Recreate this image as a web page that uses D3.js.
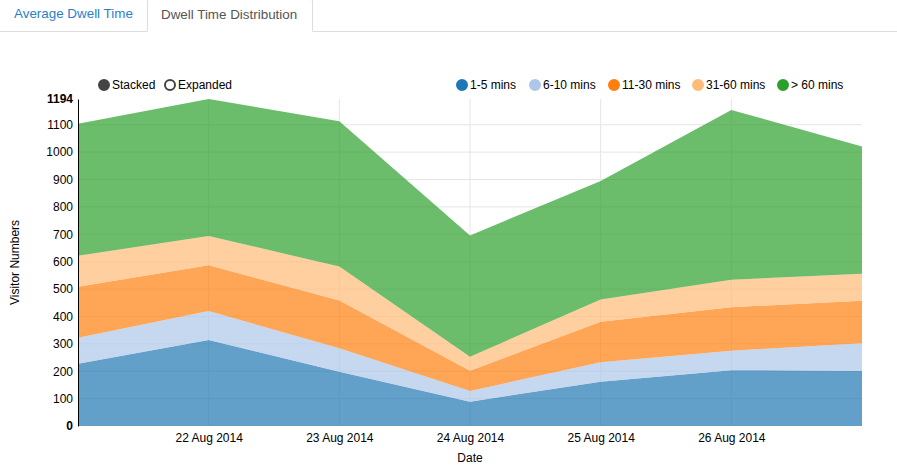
<!DOCTYPE html>
<html>
<head>
<meta charset="utf-8">
<script src="https://cdn.jsdelivr.net/npm/d3@7"></script>
<style>
  html, body { margin: 0; padding: 0; background: #fff; width: 897px; height: 465px; overflow: hidden; }
  body { font-family: "Liberation Sans", Arial, sans-serif; position: relative; }
  .tabs { position: absolute; left: 0; top: 0; width: 897px; height: 31px; border-bottom: 1px solid #ddd; }
  .tab { position: absolute; top: -2px; height: 33px; line-height: 31px; font-size: 13.4px; box-sizing: border-box; padding: 0 14px; }
  .tab.inactive { left: 0; color: #2a7fc9; }
  .tab.active { left: 147px; width: 166px; color: #555; background: #fff; border: 1px solid #ddd; border-bottom-color: #fff; border-radius: 4px 4px 0 0; height: 34px; padding-left: 13px; }
  svg { position: absolute; left: 0; top: 0; }
  text { font-family: "Liberation Sans", Arial, sans-serif; }
</style>
</head>
<body>
<div class="tabs">
  <div class="tab inactive">Average Dwell Time</div>
  <div class="tab active">Dwell Time Distribution</div>
</div>
<svg id="chart" width="897" height="465"></svg>
<script>
// Daily visitor counts by dwell-time band
const dates = ["2014-08-21", "2014-08-22", "2014-08-23", "2014-08-24", "2014-08-25", "2014-08-26", "2014-08-27"];
const seriesNames = ["1-5 mins", "6-10 mins", "11-30 mins", "31-60 mins", "> 60 mins"];
const seriesColors = ["#1f77b4", "#aec7e8", "#ff7f0e", "#ffbb78", "#2ca02c"];
const mins1to5   = [227, 314, 198, 89, 162, 204, 201];
const mins6to10  = [95, 106, 86, 39, 71, 71, 101];
const mins11to30 = [186, 167, 174, 74, 148, 159, 155];
const mins31to60 = [114, 107, 124, 51, 81, 100, 99];
const minsOver60 = [482, 500, 531, 443, 433, 620, 465];
const yTicks = [0, 100, 200, 300, 400, 500, 600, 700, 800, 900, 1000, 1100];
const xTickDates = ["2014-08-22", "2014-08-23", "2014-08-24", "2014-08-25", "2014-08-26"];
const controlLabels = ["Stacked", "Expanded"];

const parse = d3.timeParse("%Y-%m-%d");
const values = [mins1to5, mins6to10, mins11to30, mins31to60, minsOver60];
const rows = dates.map((d, i) => {
  const r = { date: parse(d) };
  seriesNames.forEach((s, k) => r[s] = values[k][i]);
  return r;
});
const stack = d3.stack().keys(seriesNames)(rows);
const yMax = d3.max(stack[stack.length - 1], d => d[1]);

const margin = { left: 78, right: 35, top: 99, bottom: 39 };
const W = 897, H = 465;
const x = d3.scaleTime().domain(d3.extent(rows, d => d.date)).range([margin.left, W - margin.right]);
const y = d3.scaleLinear().domain([0, yMax]).range([H - margin.bottom, margin.top]);

const svg = d3.select("#chart");

// grid lines
const grid = svg.append("g");
grid.selectAll("line.h").data(yTicks.filter(t => t > 0)).join("line")
  .attr("x1", x.range()[0]).attr("x2", x.range()[1])
  .attr("y1", d => y(d)).attr("y2", d => y(d))
  .attr("stroke", "#e5e5e5").attr("stroke-width", 1);
grid.selectAll("line.v").data(xTickDates.map(parse)).join("line")
  .attr("x1", d => x(d)).attr("x2", d => x(d))
  .attr("y1", y.range()[0]).attr("y2", y.range()[1])
  .attr("stroke", "#e5e5e5").attr("stroke-width", 1);

// stacked areas
const area = d3.area().x(d => x(d.data.date)).y0(d => y(d[0])).y1(d => y(d[1]));
svg.append("g").selectAll("path").data(stack).join("path")
  .attr("d", area)
  .attr("fill", (d, i) => seriesColors[i])
  .attr("fill-opacity", 0.7);

// y axis
const yAxis = d3.axisLeft(y).tickValues(yTicks).tickSize(0).tickPadding(5).tickFormat(d3.format("d"));
const yg = svg.append("g").attr("transform", `translate(${margin.left},0)`).call(yAxis);
yg.select(".domain").attr("stroke", "#000").attr("stroke-width", 1);
yg.selectAll(".tick text").attr("font-size", 12).attr("fill", "#000")
  .attr("font-family", "Liberation Sans, Arial, sans-serif")
  .attr("font-weight", d => d === 0 ? "bold" : "normal");
yg.append("text").attr("x", -5).attr("y", y(yMax)).attr("dy", "0.32em")
  .attr("text-anchor", "end").attr("font-size", 12).attr("font-weight", "bold").attr("fill", "#000")
  .text(yMax);

// x axis
const xAxis = d3.axisBottom(x).tickValues(xTickDates.map(parse)).tickSize(0).tickPadding(7)
  .tickFormat(d3.timeFormat("%d %b %Y"));
const xg = svg.append("g").attr("transform", `translate(0,${H - margin.bottom})`).call(xAxis);
xg.select(".domain").remove();
xg.selectAll(".tick text").attr("font-size", 12).attr("fill", "#000")
  .attr("font-family", "Liberation Sans, Arial, sans-serif");

// axis titles
svg.append("text").attr("x", (x.range()[0] + x.range()[1]) / 2).attr("y", 462)
  .attr("text-anchor", "middle").attr("font-size", 12).attr("fill", "#000").text("Date");
svg.append("text").attr("transform", `translate(19,${(y.range()[0] + y.range()[1]) / 2}) rotate(-90)`)
  .attr("text-anchor", "middle").attr("font-size", 12).attr("fill", "#000").text("Visitor Numbers");

// stacked / expanded controls
const ctrlX = [104, 170];
const ctrl = svg.append("g").selectAll("g").data(controlLabels).join("g")
  .attr("transform", (d, i) => `translate(${ctrlX[i]},85)`);
ctrl.append("circle").attr("r", 5)
  .attr("fill", (d, i) => i === 0 ? "#444" : "#fff")
  .attr("stroke", "#444").attr("stroke-width", 2);
ctrl.append("text").attr("x", 8).attr("dy", "0.32em").attr("font-size", 12).attr("fill", "#000").text(d => d);

// series legend
const legX = [462, 535, 614, 698, 783];
const leg = svg.append("g").selectAll("g").data(seriesNames).join("g")
  .attr("transform", (d, i) => `translate(${legX[i]},85)`);
leg.append("circle").attr("r", 5)
  .attr("fill", (d, i) => seriesColors[i]).attr("stroke", (d, i) => seriesColors[i]).attr("stroke-width", 2);
leg.append("text").attr("x", 8).attr("dy", "0.32em").attr("font-size", 12).attr("fill", "#000").text(d => d);
</script>
</body>
</html>
